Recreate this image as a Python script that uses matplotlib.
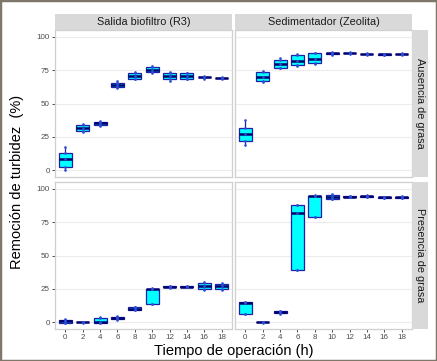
import matplotlib
matplotlib.use('Agg')
import matplotlib.pyplot as plt
from matplotlib.patches import Rectangle

plt.rcParams['font.family'] = ['Liberation Sans', 'DejaVu Sans']

# ---------------- data ----------------
times = ['0', '2', '4', '6', '8', '10', '12', '14', '16', '18']
columns = ['Salida biofiltro (R3)', 'Sedimentador (Zeolita)']
rows = ['Ausencia de grasa', 'Presencia de grasa']

# replicate values per time, [min, q1, median, q3, max]
biofiltro_ausencia = [
    [0.0, 2.7, 8.4, 13.2, 17.4],
    [28.8, 29.5, 31.8, 34.0, 34.5],
    [33.0, 34.2, 35.2, 36.5, 37.2],
    [61.8, 62.5, 64.0, 65.5, 66.5],
    [68.0, 68.7, 70.5, 72.5, 73.7],
    [72.7, 73.4, 75.4, 77.2, 78.2],
    [67.0, 68.0, 70.5, 72.7, 73.4],
    [68.0, 68.5, 70.5, 72.5, 73.0],
    [68.7, 69.5, 69.7, 69.9, 70.5],
    [68.0, 68.8, 69.0, 69.2, 69.7],
]
sedimentador_ausencia = [
    [18.9, 21.6, 27.0, 31.5, 37.5],
    [66.0, 66.7, 70.0, 73.2, 74.2],
    [76.2, 76.9, 79.7, 82.9, 83.9],
    [78.4, 78.9, 81.9, 86.1, 86.8],
    [79.7, 80.6, 83.1, 87.6, 88.1],
    [86.6, 87.3, 87.6, 87.9, 88.3],
    [87.0, 87.5, 87.8, 88.1, 88.5],
    [86.6, 86.9, 87.1, 87.3, 87.6],
    [86.2, 86.6, 86.8, 87.0, 87.3],
    [86.5, 86.9, 87.1, 87.3, 87.6],
]
biofiltro_presencia = [
    [-0.5, -0.2, 0.7, 2.0, 2.7],
    [-0.3, -0.1, 0.0, 0.1, 0.2],
    [-0.5, -0.3, 0.5, 3.5, 3.9],
    [1.7, 2.2, 3.0, 4.0, 4.5],
    [8.9, 9.2, 10.1, 11.1, 11.6],
    [13.6, 13.6, 24.8, 25.2, 25.9],
    [26.0, 26.5, 26.8, 27.0, 27.5],
    [26.1, 26.5, 26.8, 27.0, 27.4],
    [24.5, 25.0, 27.0, 29.5, 30.2],
    [24.5, 25.2, 27.0, 28.7, 29.2],
]
sedimentador_presencia = [
    [6.4, 6.4, 14.6, 15.1, 15.3],
    [-0.3, -0.1, 0.0, 0.1, 0.3],
    [6.5, 6.7, 7.4, 8.2, 8.4],
    [38.9, 38.9, 81.9, 88.1, 88.1],
    [79.0, 79.0, 94.6, 94.8, 95.0],
    [92.0, 92.3, 93.8, 95.5, 96.0],
    [93.5, 93.8, 94.1, 94.4, 94.7],
    [93.8, 94.0, 94.3, 94.6, 94.9],
    [93.2, 93.4, 93.6, 93.8, 94.0],
    [93.0, 93.3, 93.6, 93.9, 94.3],
]
y_ticks = [0, 25, 50, 75, 100]

panel_data = [[biofiltro_ausencia, sedimentador_ausencia],
              [biofiltro_presencia, sedimentador_presencia]]

# ---------------- figure ----------------
W, H = 437, 361
fig = plt.figure(figsize=(W / 100, H / 100), dpi=100)

def fx(px):
    return px / W

def fy(py):
    return 1 - py / H

col_x = [(55, 232), (235, 412)]
row_y = [(30, 177), (182, 329)]
strip_top = (14, 30)
strip_right = (412, 428)

box_edge = '#1f1fa8'
med_col = '#00006e'
pt_col = '#2b4fd6'
grid_col = '#ececec'
border_col = '#cfcfcf'
strip_col = '#d9d9d9'
tick_lab_col = '#4d4d4d'

for r in range(2):
    for c in range(2):
        x0, x1 = col_x[c]
        y0, y1 = row_y[r]
        ax = fig.add_axes([fx(x0), fy(y1), fx(x1) - fx(x0), fy(y0) - fy(y1)])
        data = panel_data[r][c]
        pos = list(range(len(times)))
        ax.boxplot(data, positions=pos, widths=0.75, patch_artist=True,
                   whis=(0, 100), showcaps=False, showfliers=False,
                   boxprops=dict(facecolor='#00ffff', edgecolor=box_edge, linewidth=0.9),
                   medianprops=dict(color=med_col, linewidth=1.8),
                   whiskerprops=dict(color=box_edge, linewidth=0.9),
                   zorder=3)
        for i, vals in enumerate(data):
            ax.scatter([i] * len(vals), vals, s=3.5, color=pt_col, zorder=4,
                       linewidths=0)
        ax.set_xlim(-0.6, len(times) - 0.4)
        ax.set_ylim(-5, 105)
        ax.set_yticks(y_ticks)
        ax.set_xticks(pos)
        ax.grid(axis='y', color=grid_col, linewidth=0.8, zorder=0)
        ax.set_axisbelow(True)
        for s in ax.spines.values():
            s.set_color(border_col)
            s.set_linewidth(0.9)
        ax.tick_params(axis='both', length=2.2, width=0.6, color='#333333',
                       labelsize=5.8, labelcolor=tick_lab_col, pad=1.5)
        if c == 0:
            ax.set_yticklabels([str(v) for v in y_ticks])
        else:
            ax.tick_params(axis='y', left=False, labelleft=False)
        if r == 1:
            ax.set_xticklabels(times)
        else:
            ax.tick_params(axis='x', bottom=False, labelbottom=False)

# top strips
for c in range(2):
    x0, x1 = col_x[c]
    fig.patches.append(Rectangle((fx(x0), fy(strip_top[1])), fx(x1) - fx(x0),
                                 fy(strip_top[0]) - fy(strip_top[1]),
                                 transform=fig.transFigure, facecolor=strip_col,
                                 edgecolor='none', zorder=1))
    fig.text((fx(x0) + fx(x1)) / 2, (fy(strip_top[0]) + fy(strip_top[1])) / 2,
             columns[c], ha='center', va='center', fontsize=7.8, color='#1a1a1a')

# right strips
for r in range(2):
    y0, y1 = row_y[r]
    fig.patches.append(Rectangle((fx(strip_right[0]), fy(y1)),
                                 fx(strip_right[1]) - fx(strip_right[0]),
                                 fy(y0) - fy(y1),
                                 transform=fig.transFigure, facecolor=strip_col,
                                 edgecolor='none', zorder=1))
    fig.text((fx(strip_right[0]) + fx(strip_right[1])) / 2, (fy(y0) + fy(y1)) / 2,
             rows[r], ha='center', va='center', rotation=-90, fontsize=7.8,
             color='#1a1a1a')

# axis titles
fig.text(fx(17.5), fy(182), 'Remoción de turbidez  (%)',
         rotation=90, ha='center', va='center', fontsize=10.5, color='black')
fig.text(fx((55 + 412) / 2), fy(351.5), 'Tiempo de operación (h)',
         ha='center', va='center', fontsize=10.5, color='black')

# outer frame
fig.patches.append(Rectangle((0, 0), 1, 1, transform=fig.transFigure,
                             facecolor='none', edgecolor='#7f786a',
                             linewidth=2.5, zorder=10))

fig.savefig('out.png', dpi=100)
